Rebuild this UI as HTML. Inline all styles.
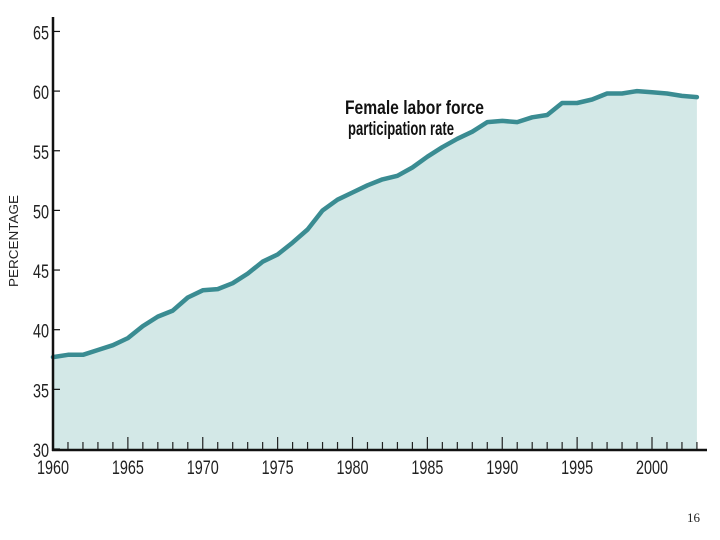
<!DOCTYPE html>
<html><head><meta charset="utf-8"><style>
body{margin:0;background:#fff;}
svg{display:block;font-family:"Liberation Sans",sans-serif;}
</style></head><body>
<svg id="chart" width="720" height="540">
<g id="area"></g><g id="axes"></g>
<text x="18" y="241" transform="rotate(-90 18 241)" text-anchor="middle" font-size="12.5" fill="#222" textLength="92" lengthAdjust="spacingAndGlyphs">PERCENTAGE</text>
<g font-weight="bold" font-size="19" fill="#111">
<text x="345" y="114" textLength="139" lengthAdjust="spacingAndGlyphs">Female labor force</text>
<text x="348" y="135" textLength="106" lengthAdjust="spacingAndGlyphs">participation rate</text>
</g>
<text x="687" y="522" font-family="Liberation Serif,serif" font-size="13" fill="#222">16</text>
</svg>
<script>
const years=[1960,1961,1962,1963,1964,1965,1966,1967,1968,1969,1970,1971,1972,1973,1974,1975,1976,1977,1978,1979,1980,1981,1982,1983,1984,1985,1986,1987,1988,1989,1990,1991,1992,1993,1994,1995,1996,1997,1998,1999,2000,2001,2002,2003];
const rates=[37.7,37.9,37.9,38.3,38.7,39.3,40.3,41.1,41.6,42.7,43.3,43.4,43.9,44.7,45.7,46.3,47.3,48.4,50.0,50.9,51.5,52.1,52.6,52.9,53.6,54.5,55.3,56.0,56.6,57.4,57.5,57.4,57.8,58.0,59.0,59.0,59.3,59.8,59.8,60.0,59.9,59.8,59.6,59.5];
const yTicks=[30,35,40,45,50,55,60,65];
const xLabels=[1960,1965,1970,1975,1980,1985,1990,1995,2000];
const NS="http://www.w3.org/2000/svg";
const X=v=>53+(v-1960)*14.975;
const Y=v=>449-(v-30)*11.93;
function mk(tag,attrs,parent){const e=document.createElementNS(NS,tag);for(const k in attrs)e.setAttribute(k,attrs[k]);parent.appendChild(e);return e;}
const area=document.getElementById('area'),axes=document.getElementById('axes');
let pts=years.map((y,i)=>X(y).toFixed(1)+','+Y(rates[i]).toFixed(1));
const poly=mk('polygon',{points:X(years[0])+','+Y(30)+' '+pts.join(' ')+' '+X(years[years.length-1])+','+Y(30),fill:'#d3e8e7'},area);


const line=mk('polyline',{points:pts.join(' '),fill:'none',stroke:'#3a8c92','stroke-width':4.5,'stroke-linejoin':'round','stroke-linecap':'round'},area);


const ya=mk('line',{x1:53,y1:17,x2:53,y2:451,stroke:'#111','stroke-width':2.5},axes);


const xa=mk('line',{x1:52,y1:450,x2:707,y2:450,stroke:'#111','stroke-width':2.5},axes);


yTicks.forEach(v=>{
 mk('line',{x1:53,x2:60,y1:Y(v),y2:Y(v),stroke:'#111','stroke-width':1.2},axes);
 const t=mk('text',{x:49,y:Y(v)+8,'text-anchor':'end','font-size':19,fill:'#222',textLength:16,lengthAdjust:'spacingAndGlyphs'},axes);
 t.textContent=v;
 
 
});
for(let yr=1961;yr<=2003;yr++){
 const major=yr%5===0;
 mk('line',{x1:X(yr),x2:X(yr),y1:major?437:442,y2:449,stroke:'#222','stroke-width':1.2},axes);
}
xLabels.forEach(v=>{
 const t=mk('text',{x:X(v),y:474,'text-anchor':'middle','font-size':19,fill:'#222',textLength:32,lengthAdjust:'spacingAndGlyphs'},axes);
 t.textContent=v;
 
 
});
</script>
</body></html>
